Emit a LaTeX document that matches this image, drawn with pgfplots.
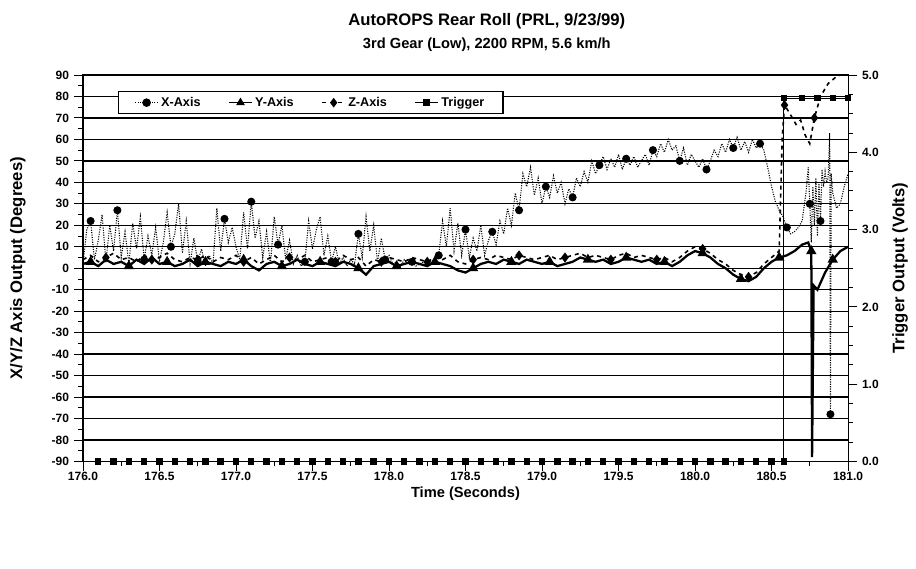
\documentclass[border=0pt]{standalone}
\usepackage{fontspec}
\setmainfont{Liberation Sans}
\usepackage{pgfplots}
\pgfplotsset{compat=1.18}

% X-Axis (degrees), dotted trace with circles
\pgfplotstableread{
t deg
176.000 2
176.025 18
176.050 22
176.075 4
176.100 13
176.125 25
176.150 3
176.175 20
176.200 8
176.225 27
176.250 5
176.275 17
176.300 2
176.325 21
176.350 9
176.375 24
176.400 4
176.425 15
176.450 6
176.475 19
176.500 3
176.525 12
176.550 26
176.575 10
176.600 16
176.625 30
176.650 7
176.675 22
176.700 2
176.725 14
176.750 3
176.775 9
176.800 1
176.825 6
176.850 2
176.875 28
176.900 8
176.925 23
176.950 12
176.975 19
177.000 10
177.025 4
177.050 26
177.075 9
177.100 31
177.125 14
177.150 22
177.175 5
177.200 17
177.225 2
177.250 24
177.275 11
177.300 20
177.325 4
177.350 13
177.375 2
177.400 6
177.425 1
177.450 3
177.475 22
177.500 9
177.525 18
177.550 24
177.575 6
177.600 15
177.625 3
177.650 10
177.675 2
177.700 5
177.725 1
177.750 4
177.775 2
177.800 16
177.825 5
177.850 24
177.875 8
177.900 20
177.925 3
177.950 14
177.975 4
178.000 6
178.025 2
178.050 3
178.075 1
178.100 4
178.125 2
178.150 3
178.175 1
178.200 2
178.225 3
178.250 1
178.275 2
178.300 4
178.325 6
178.350 22
178.375 10
178.400 28
178.425 8
178.450 21
178.475 6
178.500 18
178.525 5
178.550 14
178.575 8
178.600 20
178.625 6
178.650 13
178.675 17
178.700 11
178.725 22
178.750 16
178.775 28
178.800 20
178.825 35
178.850 27
178.875 44
178.900 38
178.925 47
178.950 34
178.975 42
179.000 30
179.025 38
179.050 33
179.075 43
179.100 35
179.125 40
179.150 30
179.175 37
179.200 33
179.225 42
179.250 38
179.275 45
179.300 40
179.325 50
179.350 44
179.375 48
179.400 52
179.425 46
179.450 51
179.475 47
179.500 53
179.525 46
179.550 51
179.575 48
179.600 52
179.625 47
179.650 50
179.675 53
179.700 48
179.725 55
179.750 52
179.775 58
179.800 54
179.825 60
179.850 55
179.875 57
179.900 50
179.925 56
179.950 48
179.975 53
180.000 50
180.025 47
180.050 51
180.075 46
180.100 50
180.125 55
180.150 52
180.175 58
180.200 54
180.225 60
180.250 56
180.275 61
180.300 55
180.325 59
180.350 54
180.375 60
180.400 56
180.425 58
180.450 55
180.475 47
180.500 38
180.525 31
180.550 27
180.575 24
180.600 19
180.625 16
180.650 17
180.675 19
180.700 22
180.725 35
180.740 47
180.750 30
180.760 12
180.770 38
180.780 20
180.790 42
180.800 15
180.810 40
180.820 22
180.830 46
180.840 38
180.850 45
180.860 40
180.870 42
180.880 63
180.885 -68
180.890 44
180.900 35
180.925 28
180.950 30
180.975 38
181.000 44
}\xdata

% Y-Axis (degrees), solid trace with triangles
\pgfplotstableread{
t deg
176.00 2
176.05 3
176.10 1
176.15 4
176.20 2
176.25 3
176.30 1
176.35 4
176.40 2
176.45 5
176.50 2
176.55 3
176.60 1
176.65 2
176.70 4
176.75 1
176.80 3
176.85 2
176.90 1
176.95 3
177.00 2
177.05 4
177.10 1
177.15 -1
177.20 2
177.25 3
177.30 1
177.35 2
177.40 4
177.45 2
177.50 1
177.55 3
177.60 2
177.65 1
177.70 3
177.75 2
177.80 0
177.85 -3
177.90 1
177.95 2
178.00 3
178.05 1
178.10 2
178.15 3
178.20 2
178.25 1
178.30 3
178.35 2
178.40 1
178.45 -1
178.50 -2
178.55 0
178.60 2
178.65 3
178.70 2
178.75 4
178.80 3
178.85 2
178.90 4
178.95 3
179.00 2
179.05 3
179.10 1
179.15 2
179.20 3
179.25 5
179.30 4
179.35 3
179.40 4
179.45 2
179.50 3
179.55 5
179.60 4
179.65 3
179.70 4
179.75 2
179.80 3
179.85 1
179.90 3
179.95 6
180.00 8
180.05 7
180.10 5
180.15 2
180.20 0
180.25 -3
180.30 -5
180.35 -6
180.40 -4
180.45 0
180.50 3
180.55 5
180.60 6
180.65 8
180.70 11
180.74 12
180.76 8
180.765 -88
180.775 -8
180.80 -10
180.85 -2
180.90 4
180.95 8
181.00 10
}\ydata

% Z-Axis (degrees), dashed trace with diamonds
\pgfplotstableread{
t deg
176.00 4
176.05 6
176.10 3
176.15 5
176.20 7
176.25 4
176.30 5
176.35 3
176.40 6
176.45 4
176.50 5
176.55 7
176.60 4
176.65 3
176.70 5
176.75 4
176.80 6
176.85 3
176.90 5
176.95 4
177.00 6
177.05 3
177.10 5
177.15 2
177.20 4
177.25 6
177.30 3
177.35 5
177.40 4
177.45 6
177.50 3
177.55 4
177.60 5
177.65 3
177.70 6
177.75 4
177.80 5
177.85 1
177.90 4
177.95 3
178.00 5
178.05 4
178.10 3
178.15 5
178.20 4
178.25 3
178.30 5
178.35 4
178.40 6
178.45 3
178.50 2
178.55 4
178.60 5
178.65 4
178.70 6
178.75 5
178.80 4
178.85 6
178.90 5
178.95 4
179.00 5
179.05 6
179.10 4
179.15 5
179.20 6
179.25 7
179.30 5
179.35 6
179.40 5
179.45 4
179.50 6
179.55 7
179.60 5
179.65 6
179.70 5
179.75 4
179.80 5
179.85 3
179.90 5
179.95 8
180.00 10
180.05 9
180.10 7
180.15 4
180.20 2
180.25 -1
180.30 -3
180.35 -4
180.40 -2
180.45 2
180.50 5
180.55 8
180.57 61
180.585 76
180.62 72
180.66 67
180.69 69
180.72 62
180.75 58
180.78 70
180.82 80
180.87 86
180.92 89
180.95 90
}\zdata

% Trigger (volts)
\pgfplotstableread{
t v
176.1 0
176.2 0
176.3 0
176.4 0
176.5 0
176.6 0
176.7 0
176.8 0
176.9 0
177.0 0
177.1 0
177.2 0
177.3 0
177.4 0
177.5 0
177.6 0
177.7 0
177.8 0
177.9 0
178.0 0
178.1 0
178.2 0
178.3 0
178.4 0
178.5 0
178.6 0
178.7 0
178.8 0
178.9 0
179.0 0
179.1 0
179.2 0
179.3 0
179.4 0
179.5 0
179.6 0
179.7 0
179.8 0
179.9 0
180.0 0
180.1 0
180.2 0
180.3 0
180.4 0
180.5 0
180.58 0
180.58 4.7
180.7 4.7
180.8 4.7
180.9 4.7
181.0 4.7
}\trig

\begin{document}
\begin{tikzpicture}
\pgfplotsset{
  base/.style={
    width=574pt, height=290pt, scale only axis,
    xmin=176, xmax=181,
    tick align=outside,
    major tick length=7pt, minor tick length=3.5pt,
    tick style={black, line width=0.7pt},
    axis line style={line width=0.8pt},
    tick label style={font=\bfseries\fontsize{9}{10}\selectfont},
    /pgf/number format/assume math mode=true,
    label style={font=\bfseries\fontsize{12.5}{14}\selectfont},
  }
}
\begin{axis}[
  base, name=main,
  ymin=-90, ymax=90,
  ytick={-90,-80,...,90}, minor y tick num=1,
  xtick={176,176.5,...,181}, minor x tick num=1,
  ytick pos=left, xtick pos=bottom,
  scaled x ticks=false,
  xticklabel style={yshift=2.5pt, /pgf/number format/.cd, fixed, fixed zerofill, precision=1},
  ymajorgrids=true,
  major grid style={black, line width=1pt},
  xlabel={Time (Seconds)},
  ylabel={X/Y/Z Axis Output (Degrees)},
  xlabel style={at={(axis description cs:0.5,-0.082)}, anchor=center,
    font=\bfseries\fontsize{11}{12}\selectfont},
  ylabel style={at={(axis description cs:-0.085,0.5)}, anchor=center},
  legend columns=4,
  legend style={at={(0.046,0.958)}, anchor=north west, draw=black,
    line width=0.8pt, fill=white, inner xsep=12pt,
    font=\bfseries\fontsize{9.5}{10}\selectfont,
    /tikz/every even column/.append style={column sep=19pt}},
  legend cell align=left,
]
\addlegendimage{black, densely dotted, mark=*, mark size=2.8pt, mark options={solid}}
\addlegendentry{X-Axis}
\addlegendimage{black, line width=0.8pt, mark=triangle*, mark size=3pt}
\addlegendentry{Y-Axis}
\addlegendimage{black, dashed, line width=0.8pt, mark=diamond*, mark size=3pt, mark options={solid}}
\addlegendentry{Z-Axis}
\addlegendimage{black, line width=0.8pt, mark=square*, mark size=2.2pt}
\addlegendentry{Trigger}

\addplot[forget plot, black, densely dotted, line width=0.8pt,
  mark=*, mark size=2.6pt, mark repeat=7, mark phase=3, mark options={solid}]
  table[x=t, y=deg] {\xdata};
\addplot[forget plot, black, line width=1.7pt,
  mark=triangle*, mark size=2.8pt, mark repeat=5, mark phase=2, mark options={solid}]
  table[x=t, y=deg] {\ydata};
\addplot[forget plot, black, dashed, line width=1.2pt,
  mark=diamond*, mark size=2.8pt, mark repeat=6, mark phase=4, mark options={solid}]
  table[x=t, y=deg] {\zdata};
\end{axis}

\begin{axis}[
  base,
  ymin=0, ymax=5,
  ytick={0,1,...,5}, minor y tick num=3,
  axis y line*=right, axis x line=none,
  yticklabel style={/pgf/number format/.cd, fixed, fixed zerofill, precision=1},
  ylabel={Trigger Output (Volts)},
  ylabel style={at={(axis description cs:1.068,0.5)}, anchor=center, rotate=0},
]
\addplot[black, line width=0.8pt, mark=square*, mark size=2pt]
  table[x=t, y=v] {\trig};
\end{axis}

\node[font=\bfseries\fontsize{12.5}{14}\selectfont] at ([xshift=16pt,yshift=40pt]main.north)
  {AutoROPS Rear Roll (PRL, 9/23/99)};
\node[font=\bfseries\fontsize{11}{12}\selectfont] at ([xshift=16pt,yshift=23pt]main.north)
  {3rd Gear (Low), 2200 RPM, 5.6 km/h};

\path[use as bounding box] ([xshift=-62.25pt,yshift=-80.25pt]main.south west)
  rectangle ([xshift=51pt,yshift=56.25pt]main.north east);
\end{tikzpicture}
\end{document}
